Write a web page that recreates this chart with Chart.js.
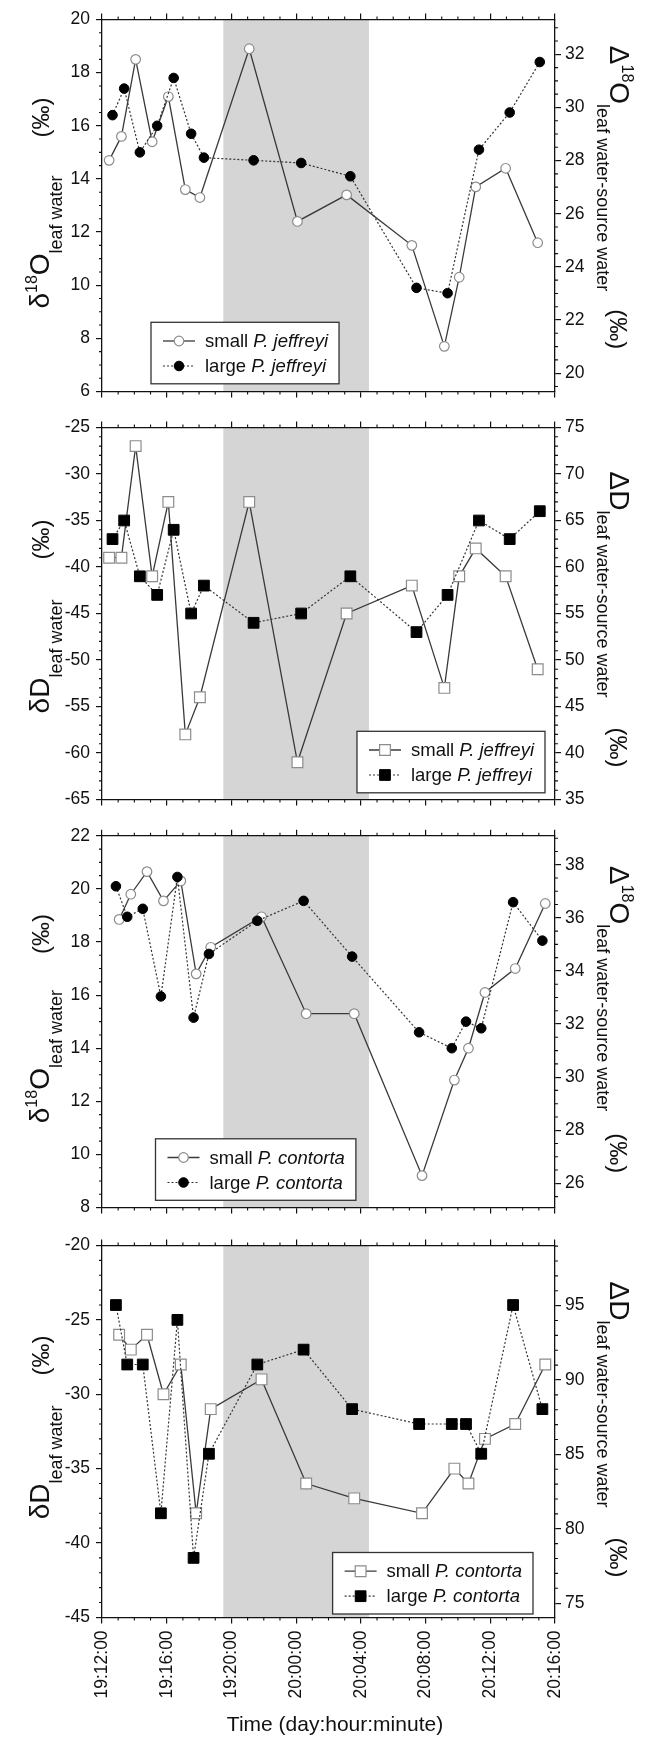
<!DOCTYPE html>
<html><head><meta charset="utf-8">
<script src="https://cdn.jsdelivr.net/npm/chart.js@4.4.1/dist/chart.umd.min.js"></script>
<style>
html,body{margin:0;padding:0;background:#fff;}
body{width:646px;height:1737px;position:relative;overflow:hidden;}
canvas{position:absolute;left:0;}
</style></head><body>
<canvas id="c1"></canvas><canvas id="c2"></canvas><canvas id="c3"></canvas><canvas id="c4"></canvas>
<script>
// ---------- DATA ----------
const timeTickValues = [0, 4, 8, 12, 16, 20, 24, 28];           // hours after 19:12:00
const timeTickLabels = ['19:12:00','19:16:00','19:20:00','20:00:00','20:04:00','20:08:00','20:12:00','20:16:00'];
const nightStart = 7.5, nightEnd = 16.5;

const jeffSmallHours = [0.44, 1.2, 2.08, 3.1, 4.1, 5.15, 6.05, 9.1, 12.08, 15.12, 19.15, 21.16, 22.08, 23.1, 24.95, 26.93];
const jeffSmallD18O  = [14.7, 15.6, 18.5, 15.4, 17.1, 13.6, 13.3, 18.9, 12.4, 13.4, 11.5, 7.7, 10.3, 13.7, 14.4, 11.6];
const jeffSmallDD    = [-39, -39, -27, -41, -33, -58, -54, -33, -61, -45, -42, -53, -41, -38, -41, -51];
const jeffLargeHours = [0.65, 1.37, 2.34, 3.41, 4.43, 5.51, 6.3, 9.37, 12.31, 15.35, 19.44, 21.36, 23.3, 25.2, 27.06];
const jeffLargeD18O  = [16.4, 17.4, 15.0, 16.0, 17.8, 15.7, 14.8, 14.7, 14.6, 14.1, 9.9, 9.7, 15.1, 16.5, 18.4];
const jeffLargeDD    = [-37, -35, -41, -43, -36, -45, -42, -46, -45, -41, -47, -43, -35, -37, -34];

const contSmallHours = [1.06, 1.78, 2.78, 3.8, 4.87, 5.82, 6.72, 9.86, 12.62, 15.59, 19.78, 21.78, 22.65, 23.67, 25.54, 27.4];
const contSmallD18O  = [18.85, 19.8, 20.65, 19.55, 20.3, 16.8, 17.8, 18.95, 15.3, 15.3, 9.2, 12.8, 14.0, 16.1, 17.0, 19.45];
const contSmallDD    = [-26, -27, -26, -30, -28, -38, -31, -29, -36, -37, -38, -35, -36, -33, -32, -28];
const contLargeHours = [0.86, 1.56, 2.52, 3.64, 4.66, 5.66, 6.61, 9.6, 12.46, 15.46, 19.6, 21.62, 22.5, 23.44, 25.41, 27.22];
const contLargeD18O  = [20.1, 18.95, 19.25, 15.95, 20.45, 15.15, 17.55, 18.8, 19.55, 17.45, 14.6, 14.0, 15.0, 14.75, 19.5, 18.05];
const contLargeDD    = [-24, -28, -28, -38, -25, -41, -34, -28, -27, -31, -32, -32, -32, -34, -24, -31];

const d18OJeffTicks      = [6, 8, 10, 12, 14, 16, 18, 20];
const d18OJeffRightTicks = [20, 22, 24, 26, 28, 30, 32];
const dDJeffTicks        = [-65, -60, -55, -50, -45, -40, -35, -30, -25];
const dDJeffRightTicks   = [35, 40, 45, 50, 55, 60, 65, 70, 75];
const d18OContTicks      = [8, 10, 12, 14, 16, 18, 20, 22];
const d18OContRightTicks = [26, 28, 30, 32, 34, 36, 38];
const dDContTicks        = [-45, -40, -35, -30, -25, -20];
const dDContRightTicks   = [75, 80, 85, 90, 95];

// ---------- STYLE / LAYOUT ----------
const FONT = '"Liberation Sans", Arial, Helvetica, sans-serif';
const PLOT_H = 372.4;
const LEFT_W = 102, RIGHT_W = 91;

function pts(xs, ys){ return xs.map((x,i)=>({x:x, y:ys[i]})); }

const MAIN = 28, SUP = 16, SUB = 18, PERMIL = 24;
function titleO18(letter, sub, gap){ return [{t:letter,f:MAIN},{t:'18',f:SUP,dy:-12},{t:'O',f:MAIN},{t:sub,f:SUB,dy:13},{t:'(\u2030)',f:PERMIL,gap:gap}]; }
function titleD(letter, sub, gap){ return [{t:letter+'D',f:MAIN},{t:sub,f:SUB,dy:13},{t:'(\u2030)',f:PERMIL,gap:gap}]; }

const panels = [
  { id:'c1', canvasTop:3, plotTop:19.3, canvasH:405, bottomLabels:false,
    style:'circle', small:pts(jeffSmallHours,jeffSmallD18O), large:pts(jeffLargeHours,jeffLargeD18O),
    yMin:6, yMax:20, yTicks:d18OJeffTicks, yMinor:0.5, rOffset:13.31, rTicks:d18OJeffRightTicks, rMinor:0.5,
    species:'P. jeffreyi', legend:{side:'left', dx:49, dy:7.7},
    leftTitle:titleO18('\u03b4','leaf water',38), leftShift:-2.5,
    rightTitle:titleO18('\u0394','leaf water-source water',18), rightShift:-8 },
  { id:'c2', canvasTop:411, plotTop:427.3, canvasH:405, bottomLabels:false,
    style:'rect', small:pts(jeffSmallHours,jeffSmallDD), large:pts(jeffLargeHours,jeffLargeDD),
    yMin:-65, yMax:-25, yTicks:dDJeffTicks, yMinor:1, rOffset:100, rTicks:dDJeffRightTicks, rMinor:1,
    species:'P. jeffreyi', legend:{side:'right', dx:10, dy:6.7},
    leftTitle:titleD('\u03b4','leaf water',40), leftShift:3,
    rightTitle:titleD('\u0394','leaf water-source water',30), rightShift:6 },
  { id:'c3', canvasTop:819, plotTop:835.8, canvasH:405, bottomLabels:false,
    style:'circle', small:pts(contSmallHours,contSmallD18O), large:pts(contLargeHours,contLargeD18O),
    yMin:8, yMax:22, yTicks:d18OContTicks, yMinor:0.5, rOffset:17.09, rTicks:d18OContRightTicks, rMinor:0.5,
    species:'P. contorta', legend:{side:'left', dx:53.5, dy:7.2},
    leftTitle:titleO18('\u03b4','leaf water',36), leftShift:-3,
    rightTitle:titleO18('\u0394','leaf water-source water',22), rightShift:-2 },
  { id:'c4', canvasTop:1229, plotTop:1245, canvasH:508, bottomLabels:true,
    style:'rect', small:pts(contSmallHours,contSmallDD), large:pts(contLargeHours,contLargeDD),
    yMin:-45, yMax:-20, yTicks:dDContTicks, yMinor:1, rOffset:119.04, rTicks:dDContRightTicks, rMinor:1,
    species:'P. contorta', legend:{side:'right', dx:22, dy:3.4},
    leftTitle:titleD('\u03b4','leaf water',30), leftShift:-4,
    rightTitle:titleD('\u0394','leaf water-source water',30), rightShift:-2 }
];

function drawRich(ctx, segs, ax, cy, rot){
  ctx.save();
  ctx.translate(ax, cy);
  ctx.rotate(rot);
  ctx.fillStyle = '#111';
  ctx.textBaseline = 'alphabetic';
  ctx.textAlign = 'left';
  let total = 0;
  segs.forEach(s=>{ ctx.font = s.f+'px '+FONT; s.w = ctx.measureText(s.t).width; total += s.w + (s.gap||0); });
  let x = -total/2;
  segs.forEach(s=>{ ctx.font = s.f+'px '+FONT; x += (s.gap||0); ctx.fillText(s.t, x, s.dy||0); x += s.w; });
  ctx.restore();
}

function minorTicks(ctx, scale, step, majors, len, side, ca){
  const kmin = Math.ceil(scale.min/step - 1e-6), kmax = Math.floor(scale.max/step + 1e-6);
  ctx.beginPath();
  for (let k=kmin; k<=kmax; k++){
    const v = k*step;
    if (majors.some(m=>Math.abs(m-v)<1e-6)) continue;
    const p = scale.getPixelForValue(v);
    if (side==='left'){ ctx.moveTo(ca.left, p); ctx.lineTo(ca.left-len, p); }
    else if (side==='right'){ ctx.moveTo(ca.right, p); ctx.lineTo(ca.right+len, p); }
    else if (side==='bottom'){ ctx.moveTo(p, ca.bottom); ctx.lineTo(p, ca.bottom+len); }
    else { ctx.moveTo(p, ca.top); ctx.lineTo(p, ca.top-len); }
  }
  ctx.stroke();
}

const decor = {
  id:'decor',
  beforeDraw(chart, args, o){
    const {ctx, chartArea:ca, scales} = chart;
    const x1 = scales.x.getPixelForValue(nightStart), x2 = scales.x.getPixelForValue(nightEnd);
    ctx.save(); ctx.fillStyle = '#d5d5d5'; ctx.fillRect(x1, ca.top, x2-x1, ca.bottom-ca.top); ctx.restore();
  },
  afterDraw(chart, args, o){
    const {ctx, chartArea:ca, scales} = chart;
    const P = o.panel;
    ctx.save();
    ctx.strokeStyle = '#111'; ctx.lineWidth = 1.1;
    minorTicks(ctx, scales.x, 1, timeTickValues, 3, 'bottom', ca);
    minorTicks(ctx, scales.x, 1, timeTickValues, 3, 'top', ca);
    minorTicks(ctx, scales.y, P.yMinor, P.yTicks, 3, 'left', ca);
    minorTicks(ctx, scales.y2, P.rMinor, P.rTicks, 3, 'right', ca);
    ctx.restore();
    // axis titles
    const cyc = (ca.top+ca.bottom)/2;
    drawRich(ctx, P.leftTitle, 49, cyc + P.leftShift, -Math.PI/2);
    drawRich(ctx, P.rightTitle, ca.right + 55, cyc + P.rightShift, Math.PI/2);
    if (P.bottomLabels){
      ctx.save(); ctx.fillStyle='#111'; ctx.font='21px '+FONT; ctx.textAlign='center'; ctx.textBaseline='alphabetic';
      ctx.fillText('Time (day:hour:minute)', 335, 1731 - P.canvasTop);
      ctx.restore();
    }
    // legend
    const ds = chart.data.datasets;
    ctx.save();
    const fs = 18.5;
    const items = ds.map(d=>{
      ctx.font = fs+'px '+FONT; const w1 = ctx.measureText(d.prefix).width;
      ctx.font = 'italic '+fs+'px '+FONT; const w2 = ctx.measureText(d.species).width;
      return {d, w1, w2, w:w1+w2};
    });
    const w = 54 + Math.max(...items.map(i=>i.w)) + 11, h = 61.5;
    const L = P.legend;
    const bx = L.side==='left' ? ca.left + L.dx : ca.right - L.dx - w;
    const by = ca.bottom - L.dy - h;
    ctx.fillStyle = '#fff'; ctx.fillRect(bx, by, w, h);
    ctx.strokeStyle = '#333'; ctx.lineWidth = 1.3; ctx.strokeRect(bx, by, w, h);
    items.forEach((it, i)=>{
      const d = it.d, cy = by + 18.7 + i*25;
      ctx.save();
      ctx.strokeStyle = d.borderColor; ctx.lineWidth = d.borderWidth; ctx.setLineDash(d.borderDash||[]);
      ctx.beginPath(); ctx.moveTo(bx+12, cy); ctx.lineTo(bx+44, cy); ctx.stroke();
      ctx.setLineDash([]);
      ctx.fillStyle = d.pointBackgroundColor; ctx.strokeStyle = d.pointBorderColor; ctx.lineWidth = d.pointBorderWidth;
      Chart.helpers.drawPoint(ctx, {pointStyle:d.pointStyle, radius:d.pointRadius, borderWidth:d.pointBorderWidth, rotation:0}, bx+28, cy);
      ctx.restore();
      ctx.fillStyle = '#111'; ctx.textBaseline = 'middle'; ctx.textAlign = 'left';
      ctx.font = fs+'px '+FONT; ctx.fillText(d.prefix, bx+54, cy+1);
      ctx.font = 'italic '+fs+'px '+FONT; ctx.fillText(d.species, bx+54+it.w1, cy+1);
    });
    ctx.restore();
  }
};

Chart.defaults.font.family = FONT;
Chart.defaults.color = '#111';

function tickFont(){ return {size:17.5, family:FONT}; }

panels.forEach(P=>{
  const cv = document.getElementById(P.id);
  cv.width = 646; cv.height = P.canvasH;
  cv.style.top = P.canvasTop+'px'; cv.style.width='646px'; cv.style.height = P.canvasH+'px';
  const topH = P.plotTop - P.canvasTop;
  const botH = P.canvasH - topH - PLOT_H;
  const isRect = P.style==='rect';
  const rad = isRect ? 7.6 : 4.8;
  const borderCfg = {display:true, color:'#111', width:1.3};
  const gridCfg = {drawOnChartArea:false, drawTicks:true, tickLength:6, color:'#111', lineWidth:1.2};
  new Chart(cv, {
    type:'line',
    data:{ datasets:[
      { label:'small '+P.species, prefix:'small ', species:P.species, data:P.small, yAxisID:'y',
        borderColor:'#3a3a3a', borderWidth:1.3, pointStyle:P.style, pointRadius:rad, pointBorderWidth:1.2,
        pointBackgroundColor:'#ffffff', pointBorderColor:'#8c8c8c', tension:0, order:1 },
      { label:'large '+P.species, prefix:'large ', species:P.species, data:P.large, yAxisID:'y',
        borderColor:'#333333', borderWidth:1.2, borderDash:[2,2], pointStyle:P.style, pointRadius:rad, pointBorderWidth:1,
        pointBackgroundColor:'#000000', pointBorderColor:'#000000', tension:0, order:0 }
    ]},
    options:{
      responsive:false, animation:false, devicePixelRatio:1,
      layout:{padding:0},
      plugins:{ legend:{display:false}, tooltip:{enabled:false}, decor:{panel:P} },
      scales:{
        x:{ type:'linear', position:'bottom', min:0, max:28,
            afterBuildTicks:s=>{ s.ticks = timeTickValues.map(v=>({value:v})); },
            afterFit:s=>{ s.height = botH; },
            ticks:{ display:P.bottomLabels, autoSkip:false, minRotation:90, maxRotation:90, padding:7, font:tickFont(), color:'#111',
                    callback:(v)=>timeTickLabels[timeTickValues.indexOf(v)] },
            grid:gridCfg, border:borderCfg },
        xTop:{ type:'linear', position:'top', min:0, max:28, display:true,
            afterBuildTicks:s=>{ s.ticks = timeTickValues.map(v=>({value:v})); },
            afterFit:s=>{ s.height = topH; },
            ticks:{ display:false }, grid:gridCfg, border:borderCfg },
        y:{ type:'linear', position:'left', min:P.yMin, max:P.yMax,
            afterBuildTicks:s=>{ s.ticks = P.yTicks.map(v=>({value:v})); },
            afterFit:s=>{ s.width = LEFT_W; },
            ticks:{ padding:6, font:tickFont(), color:'#111' }, grid:gridCfg, border:borderCfg },
        y2:{ type:'linear', position:'right', display:true, min:P.yMin+P.rOffset, max:P.yMax+P.rOffset,
            afterBuildTicks:s=>{ s.ticks = P.rTicks.map(v=>({value:v})); },
            afterFit:s=>{ s.width = RIGHT_W; },
            ticks:{ padding:4, font:tickFont(), color:'#111' }, grid:gridCfg, border:borderCfg }
      }
    },
    plugins:[decor]
  });
});
</script>
</body></html>
